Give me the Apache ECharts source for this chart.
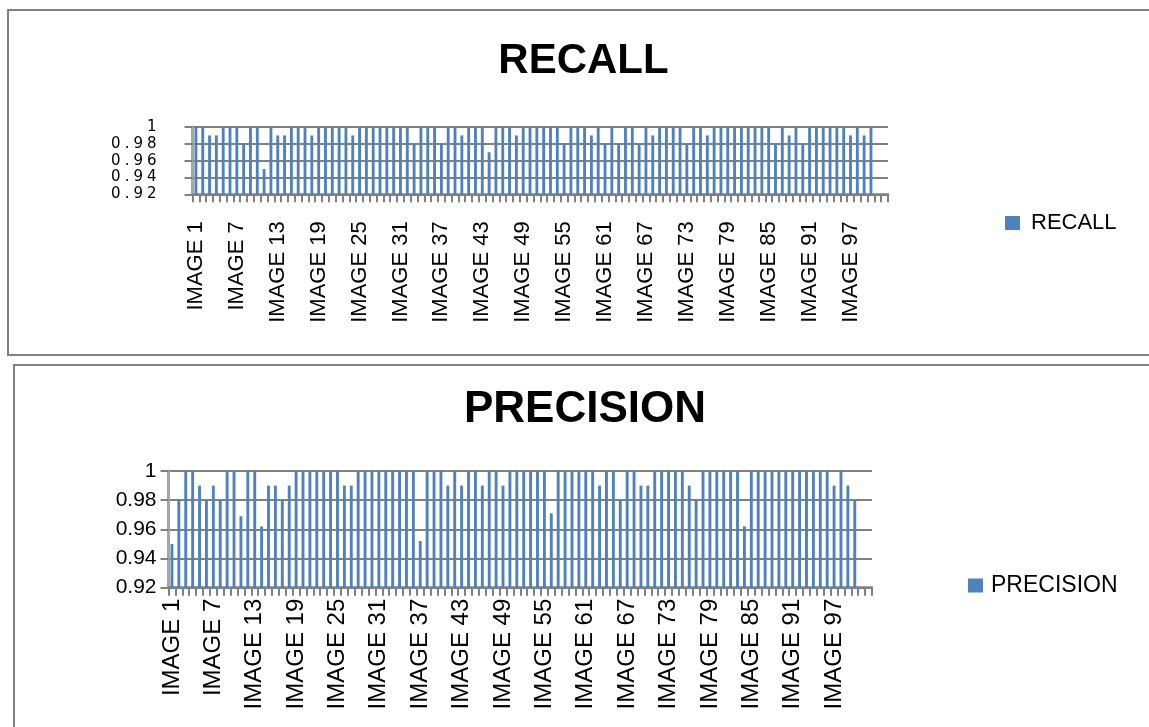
<!DOCTYPE html>
<html>
<head>
<meta charset="utf-8">
<script src="https://cdn.jsdelivr.net/npm/echarts@6/dist/echarts.min.js"></script>
<style>
html,body{margin:0;padding:0;background:#fff;}
#c{width:1149px;height:727px;}
</style>
</head>
<body>
<div id="c"></div>
<script>
// Category names: IMAGE 1 .. IMAGE 100, followed by two empty slots on the axis
const categories = [];
for (let n = 1; n <= 100; n++) categories.push('IMAGE ' + n);
categories.push(' ', '  ');

// Tick labels of the value axes (both charts)
const yTicks = [0.92, 0.94, 0.96, 0.98, 1];

// RECALL values, IMAGE 1 .. IMAGE 100
const recall = [
  1, 1, 0.99, 0.99, 1, 1, 1, 0.98, 1, 1,
  0.95, 1, 0.99, 0.99, 1, 1, 1, 0.99, 1, 1,
  1, 1, 1, 0.99, 1, 1, 1, 1, 1, 1,
  1, 1, 0.98, 1, 1, 1, 0.98, 1, 1, 0.99,
  1, 1, 1, 0.97, 1, 1, 1, 0.99, 1, 1,
  1, 1, 1, 1, 0.98, 1, 1, 1, 0.99, 1,
  0.98, 1, 0.98, 1, 1, 0.98, 1, 0.99, 1, 1,
  1, 1, 0.98, 1, 1, 0.99, 1, 1, 1, 1,
  1, 1, 1, 1, 1, 0.98, 1, 0.99, 1, 0.98,
  1, 1, 1, 1, 1, 1, 0.99, 1, 0.99, 1
];

// PRECISION values, IMAGE 1 .. IMAGE 100
const precision = [
  0.95, 0.98, 1, 1, 0.99, 0.98, 0.99, 0.98, 1, 1,
  0.969, 1, 1, 0.962, 0.99, 0.99, 0.98, 0.99, 1, 1,
  1, 1, 1, 1, 1, 0.99, 0.99, 1, 1, 1,
  1, 1, 1, 1, 1, 1, 0.952, 1, 1, 1,
  0.99, 1, 0.99, 1, 1, 0.99, 1, 1, 0.99, 1,
  1, 1, 1, 1, 1, 0.971, 1, 1, 1, 1,
  1, 1, 0.99, 1, 1, 0.98, 1, 1, 0.99, 0.99,
  1, 1, 1, 1, 1, 0.99, 0.98, 1, 1, 1,
  1, 1, 1, 0.962, 1, 1, 1, 1, 1, 1,
  1, 1, 1, 1, 1, 1, 0.99, 1, 0.99, 0.98
];

const pad = arr => arr.concat(new Array(categories.length - arr.length).fill(null));

const BAR = '#4F81BD';
const GRID = '#808080';
const FONT = 'Liberation Sans';

function xAxisCfg(gi, margin, fs) {
  return {
    type: 'category', gridIndex: gi, data: categories, boundaryGap: true,
    axisLine: {show: true, lineStyle: {color: GRID, width: 2.5}},
    axisTick: {show: true, interval: 0, length: 8, lineStyle: {color: GRID, width: 2}},
    axisLabel: {interval: 5, rotate: 90, margin: margin, fontSize: fs, color: '#000', fontFamily: FONT,
      hideOverlap: false},
    splitLine: {show: false}
  };
}
function yAxisBase(gi) {
  return {
    type: 'value', gridIndex: gi,
    min: yTicks[0], max: yTicks[yTicks.length - 1], interval: 0.02,
    axisLine: {show: true, lineStyle: {color: '#a6a6a6', width: 3}},
    axisTick: {show: true, length: 8, lineStyle: {color: GRID, width: 2}},
    splitLine: {show: true, lineStyle: {color: GRID, width: 2}}
  };
}
// recall axis: compact, letter-spaced labels so that all five fit in the squeezed plot
const recallY = Object.assign(yAxisBase(0), {
  axisLabel: {margin: 34, color: '#000', showMinLabel: true, showMaxLabel: true, hideOverlap: false,
    formatter: v => String(+v.toFixed(2)).split('').map(ch => '{c|' + ch + '}').join(''),
    rich: {c: {fontSize: 15, fontFamily: 'DejaVu Sans', color: '#000', padding: [0, 2, 0, 2]}}}
});
const precisionY = Object.assign(yAxisBase(1), {
  axisLabel: {margin: 12, fontSize: 21, color: '#000', fontFamily: FONT,
    showMinLabel: true, showMaxLabel: true, formatter: v => String(+v.toFixed(2))}
});

const chart = echarts.init(document.getElementById('c'), null, {renderer: 'canvas'});
chart.setOption({
  animation: false,
  backgroundColor: '#fff',
  graphic: [
    {type: 'rect', shape: {x: 8, y: 10, width: 1200, height: 345}, style: {fill: 'none', stroke: '#808080', lineWidth: 2}, silent: true, z: 0},
    {type: 'rect', shape: {x: 14, y: 365, width: 1200, height: 420}, style: {fill: 'none', stroke: '#808080', lineWidth: 2}, silent: true, z: 0}
  ],
  title: [
    {text: 'RECALL', left: 583.5, top: 40, textAlign: 'center', padding: 0,
     textStyle: {fontSize: 42, fontWeight: 'bold', color: '#000', fontFamily: FONT}},
    {text: 'PRECISION', left: 585, top: 388, textAlign: 'center', padding: 0,
     textStyle: {fontSize: 44, fontWeight: 'bold', color: '#000', fontFamily: FONT}}
  ],
  legend: [
    {data: ['RECALL'], left: 1005, top: 212, padding: 0, itemWidth: 15, itemHeight: 14, icon: 'rect',
     textStyle: {fontSize: 22, color: '#000', fontFamily: FONT, padding: [0, 0, 0, 6]}},
    {data: ['PRECISION'], left: 968, top: 574, padding: 0, itemWidth: 15, itemHeight: 14, icon: 'rect',
     textStyle: {fontSize: 23, color: '#000', fontFamily: FONT, padding: [0, 0, 0, 3]}}
  ],
  grid: [
    {left: 192.5, top: 127, width: 695.5, height: 67.3, containLabel: false, outerBoundsMode: 'none'},
    {left: 168.5, top: 471, width: 703.5, height: 116.7, containLabel: false, outerBoundsMode: 'none'}
  ],
  xAxis: [xAxisCfg(0, 27, 22), xAxisCfg(1, 11, 24)],
  yAxis: [recallY, precisionY],
  series: [
    {type: 'bar', name: 'RECALL', xAxisIndex: 0, yAxisIndex: 0, data: pad(recall),
     barWidth: '42%', itemStyle: {color: BAR}},
    {type: 'bar', name: 'PRECISION', xAxisIndex: 1, yAxisIndex: 1, data: pad(precision),
     barWidth: '42%', itemStyle: {color: BAR}}
  ]
});
</script>
</body>
</html>
